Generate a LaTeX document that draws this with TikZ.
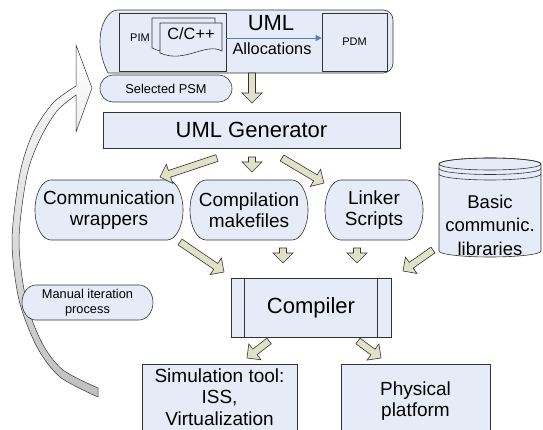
\documentclass[tikz,border=0pt]{standalone}
\usepackage{fontspec}
\setmainfont{Liberation Sans}
\usetikzlibrary{positioning,arrows.meta,calc}
\definecolor{ink}{HTML}{333333}
\definecolor{paleBlue}{HTML}{E6ECF7}
\definecolor{khaki}{HTML}{E0E1C6}
\definecolor{linkBlue}{HTML}{4F81BD}
\tikzset{
  box/.style={draw=ink, fill=paleBlue, line width=0.6pt},
  t11/.style={font=\fontsize{11}{13}\selectfont},
  t13/.style={font=\fontsize{12.8}{15.5}\selectfont},
  t16/.style={font=\fontsize{16.3}{19}\selectfont},
  t19/.style={font=\fontsize{19}{21.5}\selectfont},
  t22/.style={font=\fontsize{22}{26}\selectfont},
  blk/.style={draw=ink, fill=khaki, line width=0.6pt, line join=miter,
    to path={let \p1=(\tikztostart), \p2=(\tikztotarget),
      \n1={atan2(\y2-\y1,\x2-\x1)} in
      ($(\p1)+(\n1+90:3.5pt)$) -- ($(\p2)+(\n1+180:10pt)+(\n1+90:3.5pt)$)
      -- ($(\p2)+(\n1+180:10pt)+(\n1+90:10pt)$) -- (\p2)
      -- ($(\p2)+(\n1+180:10pt)+(\n1-90:10pt)$)
      -- ($(\p2)+(\n1+180:10pt)+(\n1-90:3.5pt)$)
      -- ($(\p1)+(\n1-90:3.5pt)$) -- cycle}},
}
% capsule outline: centre x, centre y, half width, half height, end depth
\newcommand\capsule[5]{%
  \draw[box] (#1-#3+#5,#2-#4) -- (#1+#3-#5,#2-#4)
    arc[start angle=90, end angle=-90, x radius=#5pt, y radius=#4pt]
    -- (#1-#3+#5,#2+#4)
    arc[start angle=270, end angle=90, x radius=#5pt, y radius=#4pt] -- cycle;}

\begin{document}
\begin{tikzpicture}[x=1pt, y=-1pt]
\useasboundingbox (0,0) rectangle (543,430);
% manual iteration loop arrow
\draw[ink, line width=0.5pt, top color=white, middle color=white, bottom color=black!25]
  plot[smooth] coordinates {(76,86) (53,103) (33,133) (20,173) (12,240) (19,300) (37,347) (60,377) (98,397)}
  -- plot[smooth] coordinates {(98,388) (63,370) (42,343) (26,300) (19,240) (27,175) (40,139) (57,111) (76,95)}
  -- (76,132) -- (92,88) -- (76,45) -- cycle;
% top strip
\draw[box, rounded corners=10pt] (118,10) -- (393,10) -- (393,73) -- (118,73)
  [sharp corners] arc[start angle=270, end angle=90, x radius=18pt, y radius=31.5pt] -- cycle;
\node[box, minimum width=107pt, minimum height=58pt] (pim) at (172.5,42) {};
\node[t11] (pimlbl) at (140,38) {PIM};
\draw[box] (152,18) -- (215,18) -- (215,46) .. controls (198,38) and (176,60) .. (152,48) -- cycle;
\draw[box] (160,23) -- (222,23) -- (222,51) .. controls (205,42) and (185,64) .. (160,53) -- cycle;
\node[t16] (cdoc) at (191,34) {C/C++};
\node[t22] (uml) at (271,23) {UML};
\node[t16] (alloc) at (272,49) {Allocations};
\node[box, t11, minimum width=65pt, minimum height=58pt] (pdm) at (354.5,42) {PDM};
\draw[linkBlue, line width=0.8pt, -{Triangle[length=6pt,width=6pt]}] ([yshift=4pt]pim.east) -- ([yshift=4pt]pdm.west);
% flow
\capsule{166}{88.5}{66}{13.5}{13}
\node[t13] (psm) at (166,88.5) {Selected PSM};
\node[box, t22, minimum width=297pt, minimum height=36pt] (gen) at (251.5,130) {UML Generator};
\capsule{109}{210}{74}{30}{16}
\node[t19, align=center] (comm) at (109,210) {Communication\\wrappers};
\capsule{249}{210}{59}{30}{16}
\node[t19, align=center] (make) at (249,210) {Compilation\\makefiles};
\capsule{374}{210}{49}{30}{16}
\node[t19, align=center] (link) at (374,210) {Linker\\Scripts};
% library cylinder
\draw[box] (439,164) -- (439,251) arc[start angle=180, end angle=360, x radius=51pt, y radius=6pt]
  -- (541,164) arc[start angle=0, end angle=180, x radius=51pt, y radius=6pt] -- cycle;
\draw[ink, line width=0.6pt] (490,164) ellipse[x radius=51pt, y radius=6pt];
\draw[ink, line width=0.6pt] (439,168.5) arc[start angle=180, end angle=360, x radius=51pt, y radius=6pt];
\draw[ink, line width=0.6pt] (439,174) arc[start angle=180, end angle=360, x radius=51pt, y radius=6pt];
\node[align=center, font=\fontsize{18.5}{23.5}\selectfont] (lib) at (490,225) {Basic\\communic.\\libraries};
\node[box, t22, minimum width=160pt, minimum height=59pt] (comp) at (311,307.5) {Compiler};
\draw[ink, line width=0.6pt] ([xshift=14pt]comp.north west) -- ([xshift=14pt]comp.south west);
\draw[ink, line width=0.6pt] ([xshift=-14pt]comp.north east) -- ([xshift=-14pt]comp.south east);
\capsule{87.5}{302.5}{65.5}{17.5}{14}
\node[t13, align=center] (manual) at (87.5,302.5) {Manual iteration\\process};
\node[box, t19, align=center, anchor=north, minimum width=155pt, inner ysep=4pt, text depth=30pt] (sim) at (219.5,364) {Simulation tool:\\ISS,\\Virtualization};
\node[box, t19, align=center, anchor=north, minimum width=149pt, inner ysep=17pt, text depth=30pt] (phys) at (415.5,364) {Physical\\platform};
% block arrows
\coordinate (psmT) at (252,73);  \coordinate (psmH) at (252,103);
\coordinate (genLT) at (217,158); \coordinate (genLH) at (160,177);
\coordinate (genMT) at (252,157); \coordinate (genMH) at (252,172);
\coordinate (genRT) at (282,158); \coordinate (genRH) at (324,183);
\coordinate (commT) at (180,242); \coordinate (commH) at (224,272);
\coordinate (makeT) at (283,248); \coordinate (makeH) at (283,263);
\coordinate (linkT) at (357,248); \coordinate (linkH) at (357,263);
\coordinate (libT) at (433,250);  \coordinate (libH) at (403,271);
\coordinate (simT) at (269,341);  \coordinate (simH) at (247,358);
\coordinate (physT) at (358,341); \coordinate (physH) at (381,358);
\foreach \a/\b in {psmT/psmH, genLT/genLH, genMT/genMH, genRT/genRH, commT/commH,
  makeT/makeH, linkT/linkH, libT/libH, simT/simH, physT/physH}
  \draw[blk] (\a) to (\b);
\end{tikzpicture}
\end{document}
